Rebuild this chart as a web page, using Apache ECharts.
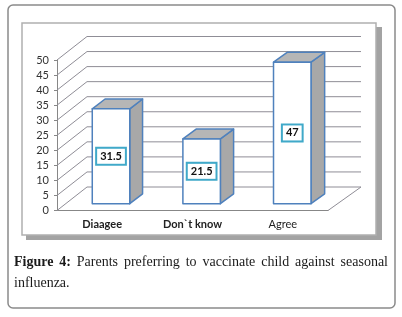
<!DOCTYPE html>
<html>
<head>
<meta charset="utf-8">
<script src="https://cdn.jsdelivr.net/npm/echarts@6/dist/echarts.min.js"></script>
<style>
  html, body { margin: 0; padding: 0; background: #fff; }
  #main { width: 402px; height: 317px; }
</style>
</head>
<body>
<div id="main"></div>
<script>
// data
var categories = ['Diaagee', 'Don`t know', 'Agree'];
var values = [31.5, 21.5, 47];
var yMin = 0, yMax = 50, yStep = 5;
var captionLine1 = ['Figure', '4:', 'Parents', 'preferring', 'to', 'vaccinate', 'child', 'against', 'seasonal'];
var captionLine2 = 'influenza.';

// fake 3d: how far the back wall sits from the front plane
var DX_L = 30, DX_R = 33, DY = -23.5;
var Z_FRONT = 0.29, Z_BACK = 0.71;   // bar depth inside the box
var BAR_W = 0.415;

var GRID_COL = '#8f8d96';
var BAR_EDGE = '#4f81bd';
var CAP_FONT = 14;

function depthX(x, cs) {
  return DX_L + (DX_R - DX_L) * (x - cs.x) / cs.width;
}

function renderWalls(params, api) {
  var cs = params.coordSys;
  var left = cs.x, right = cs.x + cs.width;
  var kids = [];
  for (var v = yMin; v <= yMax; v += yStep) {
    var y = api.coord([0, v])[1];
    // left wall diagonal + back wall line
    kids.push({
      type: 'polyline',
      shape: { points: [[left, y], [left + DX_L, y + DY], [right + DX_R, y + DY]] },
      style: { stroke: GRID_COL, lineWidth: 1, fill: null }
    });
  }
  var y0 = api.coord([0, yMin])[1];
  kids.push({
    type: 'line',
    shape: { x1: right, y1: y0, x2: right + DX_R, y2: y0 + DY },
    style: { stroke: GRID_COL, lineWidth: 1 }
  });
  return { type: 'group', children: kids };
}

function renderBar(params, api) {
  var cs = params.coordSys;
  var i = api.value(0), v = api.value(1);
  var base = api.coord([i, 0]);
  var top = api.coord([i, v]);
  var w = api.size([1, 0])[0] * BAR_W;
  var dx = depthX(base[0], cs);
  var xl = base[0] - w / 2 + dx * Z_FRONT;
  var xr = xl + w;
  var yb = base[1] + DY * Z_FRONT;
  var yt = top[1] + DY * Z_FRONT;
  var ddx = dx * (Z_BACK - Z_FRONT), ddy = DY * (Z_BACK - Z_FRONT);
  var edge = { stroke: BAR_EDGE, lineWidth: 1.5, lineJoin: 'round' };
  return {
    type: 'group',
    children: [
      {
        type: 'polygon',
        shape: { points: [[xr, yt], [xr + ddx, yt + ddy], [xr + ddx, yb + ddy], [xr, yb]] },
        style: Object.assign({ fill: '#a8a8a8' }, edge)
      },
      {
        type: 'polygon',
        shape: { points: [[xl, yt], [xl + ddx, yt + ddy], [xr + ddx, yt + ddy], [xr, yt]] },
        style: Object.assign({ fill: '#b6b6b6' }, edge)
      },
      {
        type: 'rect',
        shape: { x: xl, y: yt, width: w, height: yb - yt },
        style: Object.assign({ fill: '#fff' }, edge)
      },
      {
        type: 'text',
        style: {
          text: String(v),
          x: (xl + xr) / 2,
          y: (yt + yb) / 2,
          align: 'center',
          verticalAlign: 'middle',
          fontFamily: 'Lato',
          fontWeight: 'bold',
          fontSize: 11,
          fill: '#111',
          backgroundColor: '#fff',
          borderColor: '#40a9c9',
          borderWidth: 2,
          padding: [2, 3, 2, 3]
        }
      }
    ]
  };
}

// justified caption line, spacing worked out from measured word widths
function captionElems() {
  var ctx = document.createElement('canvas').getContext('2d');
  var x0 = 14, x1 = 388;
  var fonts = captionLine1.map(function (w, k) {
    return (k < 2 ? 'bold ' : '') + CAP_FONT + 'px "Liberation Serif"';
  });
  var widths = captionLine1.map(function (w, k) {
    ctx.font = fonts[k];
    return ctx.measureText(w).width;
  });
  var total = widths.reduce(function (a, b) { return a + b; }, 0);
  var gap = (x1 - x0 - total) / (captionLine1.length - 1);
  var out = [];
  var x = x0;
  captionLine1.forEach(function (w, k) {
    out.push({
      type: 'text', x: x, y: 262, z: 5,
      style: {
        text: w, fontFamily: 'Liberation Serif', fontSize: CAP_FONT,
        fontWeight: k < 2 ? 'bold' : 'normal', fill: '#1a1a1a',
        verticalAlign: 'middle'
      }
    });
    x += widths[k] + gap;
  });
  out.push({
    type: 'text', x: x0, y: 283, z: 5,
    style: {
      text: captionLine2, fontFamily: 'Liberation Serif', fontSize: CAP_FONT,
      fill: '#1a1a1a', verticalAlign: 'middle'
    }
  });
  return out;
}

var chart = echarts.init(document.getElementById('main'), null, { renderer: 'canvas' });

var option = {
  animation: false,
  backgroundColor: '#fff',
  graphic: [
    { type: 'rect', z: -20, shape: { x: 8, y: 5, width: 387, height: 303, r: 5 },
      style: { fill: '#fff', stroke: '#8a8a8a', lineWidth: 1.5 } },
    { type: 'rect', z: -10, shape: { x: 26, y: 27, width: 356, height: 213 },
      style: { fill: '#a3a3a3' } },
    { type: 'rect', z: -9, shape: { x: 22, y: 23, width: 354, height: 212 },
      style: { fill: '#fff', stroke: '#b0b0b0', lineWidth: 1.5 } }
  ].concat(captionElems()),
  grid: { left: 57, right: 74, top: 60, bottom: 106.5 },
  xAxis: {
    type: 'category',
    data: categories.map(function (c, k) {
      return k === 2 ? { value: c, textStyle: { fontWeight: 'normal' } } : c;
    }),
    axisLine: { lineStyle: { color: '#878787' } },
    axisTick: { length: 3, lineStyle: { color: '#878787' } },
    axisLabel: { fontFamily: 'Lato', fontSize: 11, fontWeight: 'bold', color: '#222', margin: 8 },
    splitLine: { show: false }
  },
  yAxis: {
    type: 'value',
    min: yMin, max: yMax, interval: yStep,
    axisLine: { show: true, lineStyle: { color: '#878787' } },
    axisTick: { show: true, length: 3, lineStyle: { color: '#878787' } },
    axisLabel: { fontFamily: 'Lato', fontSize: 11, color: '#333', margin: 8 },
    splitLine: { show: false }
  },
  series: [
    {
      type: 'custom',
      name: 'walls',
      z: 1,
      clip: false,
      silent: true,
      renderItem: renderWalls,
      data: [[0, 0]]
    },
    {
      type: 'custom',
      name: 'bars',
      z: 3,
      clip: false,
      renderItem: renderBar,
      encode: { x: 0, y: 1 },
      data: values.map(function (v, i) { return [i, v]; })
    }
  ]
};

chart.setOption(option);
</script>
</body>
</html>
